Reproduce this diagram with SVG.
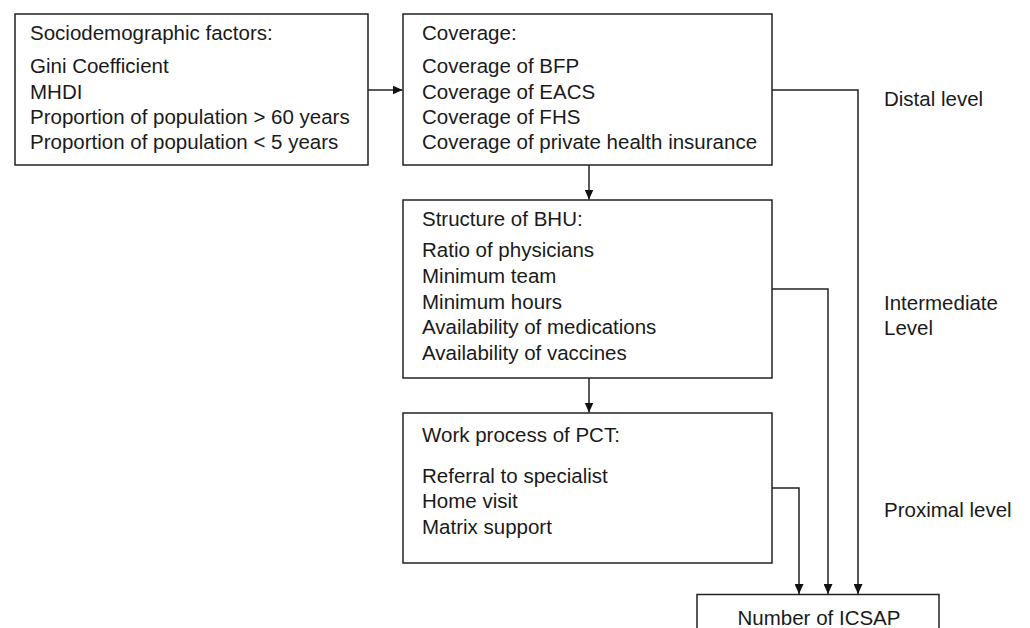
<svg xmlns="http://www.w3.org/2000/svg" width="1030" height="628" viewBox="0 0 1030 628">
<style>
.box{fill:#fff;stroke:#222;stroke-width:1.5}
text{font-family:"Liberation Sans",Arial,sans-serif;font-size:20.5px;fill:#1a1a1a}
.c{fill:none;stroke:#222;stroke-width:1.5}
</style>
<defs>
<marker id="ah" viewBox="0 0 10 9" refX="10" refY="4.5" markerWidth="10" markerHeight="9" markerUnits="userSpaceOnUse" orient="auto">
<path d="M0,0 L10,4.5 L0,9 Z" fill="#111"/>
</marker>
</defs>
<rect width="1030" height="628" fill="#fff"/>
<g id="connectors">
<path class="c" d="M368,90 H402.5" marker-end="url(#ah)"/>
<path class="c" d="M589,165 V199.5" marker-end="url(#ah)"/>
<path class="c" d="M589,378 V412.5" marker-end="url(#ah)"/>
<path class="c" d="M772,90 H858 V594" marker-end="url(#ah)"/>
<path class="c" d="M772,289 H828 V594" marker-end="url(#ah)"/>
<path class="c" d="M772,488 H799 V594" marker-end="url(#ah)"/>
</g>
<g id="sociodemographic">
<rect class="box" x="15" y="14" width="353" height="151"/>
<text x="30" y="40">Sociodemographic factors:</text>
<text x="30" y="73">Gini Coefficient</text>
<text x="30" y="99">MHDI</text>
<text x="30" y="124">Proportion of population &gt; 60 years</text>
<text x="30" y="149">Proportion of population &lt; 5 years</text>
</g>
<g id="coverage">
<rect class="box" x="403" y="14" width="369" height="151"/>
<text x="422" y="40">Coverage:</text>
<text x="422" y="73">Coverage of BFP</text>
<text x="422" y="99">Coverage of EACS</text>
<text x="422" y="124">Coverage of FHS</text>
<text x="422" y="149">Coverage of private health insurance</text>
</g>
<g id="structure">
<rect class="box" x="403" y="200" width="369" height="178"/>
<text x="422" y="226">Structure of BHU:</text>
<text x="422" y="257">Ratio of physicians</text>
<text x="422" y="283">Minimum team</text>
<text x="422" y="309">Minimum hours</text>
<text x="422" y="334">Availability of medications</text>
<text x="422" y="360">Availability of vaccines</text>
</g>
<g id="workprocess">
<rect class="box" x="403" y="413" width="369" height="150"/>
<text x="422" y="442">Work process of PCT:</text>
<text x="422" y="483">Referral to specialist</text>
<text x="422" y="508">Home visit</text>
<text x="422" y="534">Matrix support</text>
</g>
<g id="icsap">
<rect class="box" x="697" y="594.5" width="242" height="40"/>
<text x="819" y="625" text-anchor="middle">Number of ICSAP</text>
</g>
<g id="levels">
<text x="884" y="106">Distal level</text>
<text x="884" y="310">Intermediate</text>
<text x="884" y="335">Level</text>
<text x="884" y="517">Proximal level</text>
</g>
</svg>
